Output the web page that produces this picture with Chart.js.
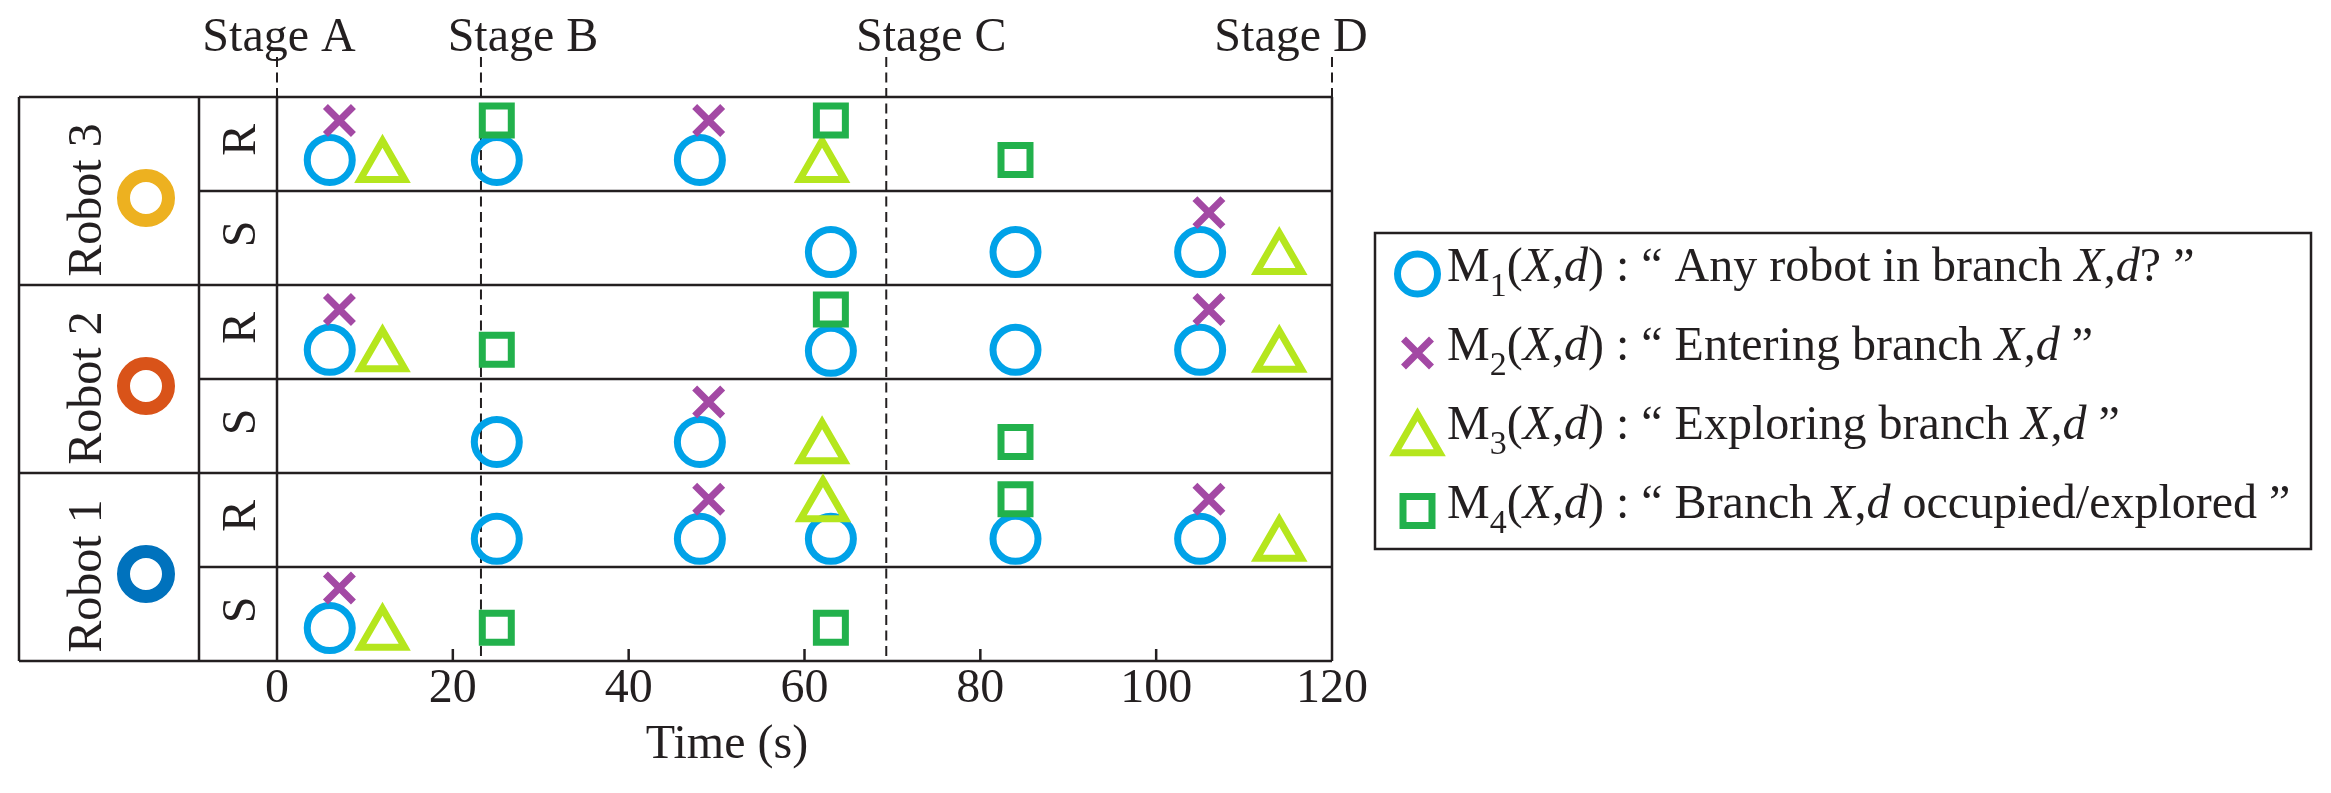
<!DOCTYPE html>
<html>
<head>
<meta charset="utf-8">
<title>Robot message timeline</title>
<script src="https://cdn.jsdelivr.net/npm/chart.js@4.4.1/dist/chart.umd.min.js"></script>
<style>
  html, body { margin: 0; padding: 0; background: #fff; }
  #chart { display: block; }
</style>
</head>
<body>
<canvas id="chart" width="2331" height="793"></canvas>
<script>
// ---- data ----
const timeTicks = [0, 20, 40, 60, 80, 100, 120];
const robots = ["Robot 3", "Robot 2", "Robot 1"];
const channels = ["R", "S"];
const stageNames = ["Stage A", "Stage B", "Stage C", "Stage D"];
const stageTimes = [0, 23.2, 69.3, 120];

// [time (s), lane]  lane: 0 = bottom of Robot 1 / S ... 6 = top of Robot 3 / R
const m1Points = [
    [6.0, 5.33], [25.0, 5.33], [48.1, 5.33],
    [63.0, 4.35], [84.0, 4.35], [105.0, 4.35],
    [6.0, 3.31], [63.0, 3.30], [84.0, 3.31], [105.0, 3.31],
    [25.0, 2.33], [48.1, 2.33],
    [25.0, 1.30], [48.1, 1.30], [63.0, 1.30], [84.0, 1.30], [105.0, 1.30],
    [6.0, 0.35]
];
const m2Points = [
    [7.1, 5.75], [49.1, 5.75],
    [106.0, 4.77],
    [7.1, 3.74], [106.0, 3.74],
    [49.1, 2.755],
    [49.1, 1.72], [106.0, 1.72],
    [7.1, 0.777]
];
const m3Points = [
    [12.0, 5.26], [62.0, 5.26],
    [114.0, 4.28],
    [12.0, 3.245], [114.0, 3.24],
    [62.0, 2.266],
    [62.1, 1.65], [114.0, 1.23],
    [12.0, 0.283]
];
const m4Points = [
    [25.0, 5.75], [63.0, 5.75], [84.0, 5.33],
    [25.0, 3.31], [63.0, 3.74],
    [84.0, 2.33],
    [84.0, 1.72],
    [25.0, 0.355], [63.0, 0.355]
];

// legend text: [text, style]  ("" regular, "i" italic, "sub" subscript)
const legendLabels = [
    [["M", ""], ["1", "sub"], ["(", ""], ["X", "i"], [",", ""], ["d", "i"], [")", ""],
     [" : \u201C Any robot in branch ", ""], ["X", "i"], [",", ""], ["d", "i"], ["? \u201D", ""]],
    [["M", ""], ["2", "sub"], ["(", ""], ["X", "i"], [",", ""], ["d", "i"], [")", ""],
     [" : \u201C Entering branch ", ""], ["X", "i"], [",", ""], ["d", "i"], [" \u201D", ""]],
    [["M", ""], ["3", "sub"], ["(", ""], ["X", "i"], [",", ""], ["d", "i"], [")", ""],
     [" : \u201C Exploring branch ", ""], ["X", "i"], [",", ""], ["d", "i"], [" \u201D", ""]],
    [["M", ""], ["4", "sub"], ["(", ""], ["X", "i"], [",", ""], ["d", "i"], [")", ""],
     [" : \u201C Branch ", ""], ["X", "i"], [",", ""], ["d", "i"], [" occupied/explored \u201D", ""]]
];

// ---- styles ----
const FONT = "'Liberation Serif', 'Times New Roman', serif";
const INK = "#231f20";
const robotColors = ["#EDB120", "#D95319", "#0072BD"];
const markerStyles = [
    { color: "#00A2E8", style: "circle", radius: 22.5 },
    { color: "#A349A4", style: "crossRot", radius: 19.8 },
    { color: "#B5E61D", style: "triangle", radius: 25.7 },
    { color: "#22B14C", style: "rect", radius: 20.5 }
];
const TABLE_LEFT = 19;
const ROBOT_COL_RIGHT = 199;

function toXY(points) {
    return points.map(([t, lane]) => ({ x: t, y: lane }));
}

function makeDataset(points, m, order) {
    return {
        data: toXY(points),
        pointStyle: m.style,
        pointRadius: m.radius,
        pointHoverRadius: m.radius,
        pointBorderWidth: 7,
        pointHoverBorderWidth: 7,
        pointBorderColor: m.color,
        pointBackgroundColor: "rgba(0,0,0,0)",
        showLine: false,
        order: order
    };
}

function line(ctx, x0, y0, x1, y1) {
    ctx.beginPath();
    ctx.moveTo(x0, y0);
    ctx.lineTo(x1, y1);
    ctx.stroke();
}

function verticalText(ctx, s, x, y) {
    ctx.save();
    ctx.translate(x, y);
    ctx.rotate(-Math.PI / 2);
    ctx.textAlign = "center";
    ctx.textBaseline = "alphabetic";
    ctx.fillText(s, 0, 0);
    ctx.restore();
}

function richText(ctx, parts, x, y) {
    ctx.textAlign = "left";
    ctx.textBaseline = "alphabetic";
    parts.forEach(([s, st]) => {
        const size = st === "sub" ? 34 : 48;
        ctx.font = (st === "i" ? "italic " : "") + size + "px " + FONT;
        ctx.fillText(s, x, y + (st === "sub" ? 15 : 0));
        x += ctx.measureText(s).width;
    });
}

// table frame, stage lines, inward ticks and all the labels
const framePlugin = {
    id: "frame",
    beforeDatasetsDraw(chart) {
        const { ctx, chartArea: a, scales: { x, y } } = chart;
        ctx.save();
        ctx.strokeStyle = INK;
        ctx.lineWidth = 2.5;

        // row lines (full width between robots, partial between R and S)
        for (let k = 0; k <= 6; k++) {
            const py = y.getPixelForValue(k);
            line(ctx, k % 2 === 0 ? TABLE_LEFT : ROBOT_COL_RIGHT, py, a.right, py);
        }
        [TABLE_LEFT, ROBOT_COL_RIGHT, a.left, a.right].forEach(px => line(ctx, px, a.top, px, a.bottom));

        // inward tick marks
        timeTicks.slice(1, -1).forEach(t => {
            const px = x.getPixelForValue(t);
            line(ctx, px, a.bottom, px, a.bottom - 12);
        });

        // stage boundaries
        ctx.lineWidth = 2;
        ctx.setLineDash([10, 5.5]);
        stageTimes.forEach(t => {
            const px = x.getPixelForValue(t);
            line(ctx, px, 57, px, a.bottom);
        });
        ctx.restore();
    },
    afterDraw(chart) {
        const { ctx, chartArea: a, scales: { x, y } } = chart;
        ctx.save();
        ctx.fillStyle = INK;
        ctx.font = "48px " + FONT;

        // stage labels
        const labelShift = [2, 42, 45, -41];
        ctx.textAlign = "center";
        ctx.textBaseline = "alphabetic";
        stageNames.forEach((s, i) => {
            ctx.fillText(s, x.getPixelForValue(stageTimes[i]) + labelShift[i], 51);
        });

        // axis title
        ctx.fillText("Time (s)", 727, 758);

        // robot blocks and R/S channels
        robots.forEach((name, i) => {
            const top = 6 - 2 * i;
            const cy = y.getPixelForValue(top - 1);
            ctx.fillStyle = INK;
            verticalText(ctx, name, 101, cy + 9);

            ctx.beginPath();
            ctx.strokeStyle = robotColors[i];
            ctx.lineWidth = 13;
            ctx.arc(146, cy + 7, 22.5, 0, Math.PI * 2);
            ctx.stroke();

            channels.forEach((c, j) => {
                verticalText(ctx, c, 255, y.getPixelForValue(top - 0.5 - j) - 4);
            });
        });

        // legend box
        ctx.strokeStyle = INK;
        ctx.lineWidth = 2.5;
        ctx.strokeRect(1375, 233, 936, 316);
        const markerDy = [0, 0, 8, 0];
        legendLabels.forEach((parts, i) => {
            const m = markerStyles[i];
            ctx.save();
            ctx.strokeStyle = m.color;
            ctx.fillStyle = "rgba(0,0,0,0)";
            ctx.lineWidth = 7;
            Chart.helpers.drawPoint(ctx, {
                pointStyle: m.style,
                radius: m.style === "circle" ? 20 : m.radius,
                rotation: 0,
                borderWidth: 7
            }, 1417.5, 274 + i * 79 + markerDy[i]);
            ctx.restore();
            ctx.fillStyle = INK;
            richText(ctx, parts, 1447, 281 + i * 79);
        });
        ctx.restore();
    }
};

new Chart(document.getElementById("chart"), {
    type: "scatter",
    data: {
        datasets: [
            makeDataset(m1Points, markerStyles[0], 4),
            makeDataset(m2Points, markerStyles[1], 3),
            makeDataset(m3Points, markerStyles[2], 2),
            makeDataset(m4Points, markerStyles[3], 1)
        ]
    },
    options: {
        responsive: false,
        animation: false,
        devicePixelRatio: 1,
        events: [],
        layout: { padding: { left: 277, right: 999, top: 97, bottom: 74.4 } },
        scales: {
            x: {
                type: "linear",
                min: 0,
                max: 120,
                afterBuildTicks: s => { s.ticks = timeTicks.map(v => ({ value: v })); },
                grid: { display: false, drawTicks: false },
                border: { display: false },
                ticks: {
                    color: INK,
                    padding: 0,
                    maxRotation: 0,
                    autoSkip: false,
                    font: { family: FONT, size: 48 }
                }
            },
            y: { type: "linear", min: 0, max: 6, display: false }
        },
        plugins: {
            legend: { display: false },
            tooltip: { enabled: false }
        }
    },
    plugins: [framePlugin]
});
</script>
</body>
</html>
